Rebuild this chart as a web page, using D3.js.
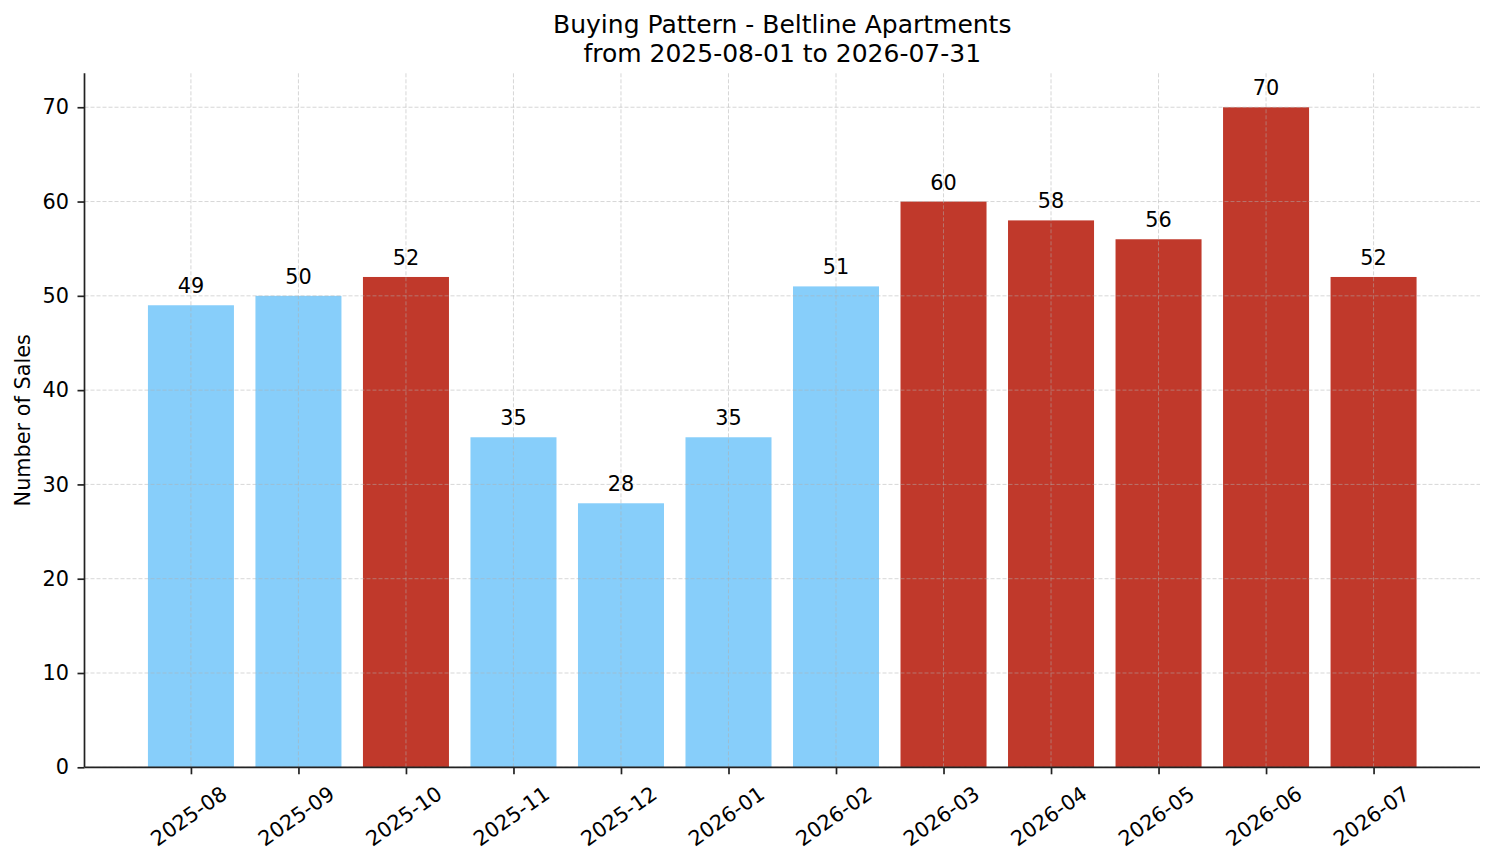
<!DOCTYPE html>
<html>
<head>
<meta charset="utf-8">
<script src="https://cdn.jsdelivr.net/npm/d3@7"></script>
<style>
	body { margin: 0; background: #fff; }
	svg { font-family: "DejaVu Sans", sans-serif; }
</style>
</head>
<body>
<svg id="chart" width="1494" height="863"></svg>
<script>
// @ Data
const months = ["2025-08", "2025-09", "2025-10", "2025-11", "2025-12", "2026-01",
	"2026-02", "2026-03", "2026-04", "2026-05", "2026-06", "2026-07"];
const sales = [49, 50, 52, 35, 28, 35, 51, 60, 58, 56, 70, 52];
const peak = [false, false, true, false, false, false, false, true, true, true, true, true];
const yTicks = [0, 10, 20, 30, 40, 50, 60, 70];
const titleLines = ["Buying Pattern - Beltline Apartments", "from 2025-08-01 to 2026-07-31"];

const W = 1494;
const H = 863;
const margin = { top: 73.3, right: 14, bottom: 95.7, left: 84.5 };
const innerW = W - margin.left - margin.right;
const innerH = H - margin.top - margin.bottom;
const fs = 20.8;

const svg = d3.select("#chart");
const g = svg.append("g").attr("transform", `translate(${margin.left},${margin.top})`);

// @ Scales (matplotlib-like: bar width 0.8, 5% margins)
const x = d3.scaleLinear().domain([-0.99, months.length - 1 + 0.99]).range([0, innerW]);
const y = d3.scaleLinear().domain([0, 73.6]).range([innerH, 0]);
const bw = x(0.4) - x(-0.4);

// @ Bars
g.selectAll("rect.bar")
	.data(sales)
	.enter()
	.append("rect")
	.attr("class", "bar")
	.attr("x", (d, i) => x(i) - bw / 2)
	.attr("y", (d) => y(d))
	.attr("width", bw)
	.attr("height", (d) => innerH - y(d))
	.attr("fill", (d, i) => (peak[i] ? "#c0392b" : "#87cefa"));

// @ Grid (drawn above bars)
const grid = g.append("g")
	.attr("stroke", "#b0b0b0")
	.attr("stroke-opacity", 0.5)
	.attr("stroke-width", 1)
	.attr("stroke-dasharray", "4,2");
grid.selectAll("line.gy")
	.data(yTicks)
	.enter()
	.append("line")
	.attr("x1", 0)
	.attr("x2", innerW)
	.attr("y1", (d) => y(d))
	.attr("y2", (d) => y(d));
grid.selectAll("line.gx")
	.data(months)
	.enter()
	.append("line")
	.attr("x1", (d, i) => x(i))
	.attr("x2", (d, i) => x(i))
	.attr("y1", 0)
	.attr("y2", innerH);

// @ Value labels
g.selectAll("text.val")
	.data(sales)
	.enter()
	.append("text")
	.attr("x", (d, i) => x(i))
	.attr("y", (d) => y(d) - 12)
	.attr("text-anchor", "middle")
	.style("font-size", fs + "px")
	.text((d) => d);

// @ Axes
const yAxis = g.append("g")
	.call(d3.axisLeft(y).tickValues(yTicks).tickSize(7).tickPadding(8.5));
const xAxis = g.append("g")
	.attr("transform", `translate(0,${innerH})`)
	.call(d3.axisBottom(x).tickValues(d3.range(months.length)).tickSize(7).tickFormat(""));

[yAxis, xAxis].forEach((ax) => {
	ax.selectAll("path.domain").attr("stroke", "#222").attr("stroke-width", 1.7);
	ax.selectAll(".tick line").attr("stroke", "#222").attr("stroke-width", 1.7);
});
yAxis.select("path.domain").attr("d", `M0,0V${innerH}`);
xAxis.select("path.domain").attr("d", `M0,0H${innerW}`);
yAxis.selectAll(".tick text")
	.style("font-size", fs + "px")
	.style("font-family", "DejaVu Sans")
	.attr("fill", "#000");

// rotated month labels
g.selectAll("text.month")
	.data(months)
	.enter()
	.append("text")
	.attr("transform", (d, i) => `translate(${x(i) - 2},${innerH + 49}) rotate(-35)`)
	.attr("text-anchor", "middle")
	.attr("dominant-baseline", "central")
	.style("font-size", fs + "px")
	.text((d) => d);

// @ Labels
svg.append("text")
	.attr("transform", `translate(30,${margin.top + innerH / 2}) rotate(-90)`)
	.attr("text-anchor", "middle")
	.style("font-size", fs + "px")
	.text("Number of Sales");

svg.selectAll("text.title")
	.data(titleLines)
	.enter()
	.append("text")
	.attr("x", margin.left + innerW / 2)
	.attr("y", (d, i) => 33 + i * 29)
	.attr("text-anchor", "middle")
	.style("font-size", "25px")
	.text((d) => d);
</script>
</body>
</html>
